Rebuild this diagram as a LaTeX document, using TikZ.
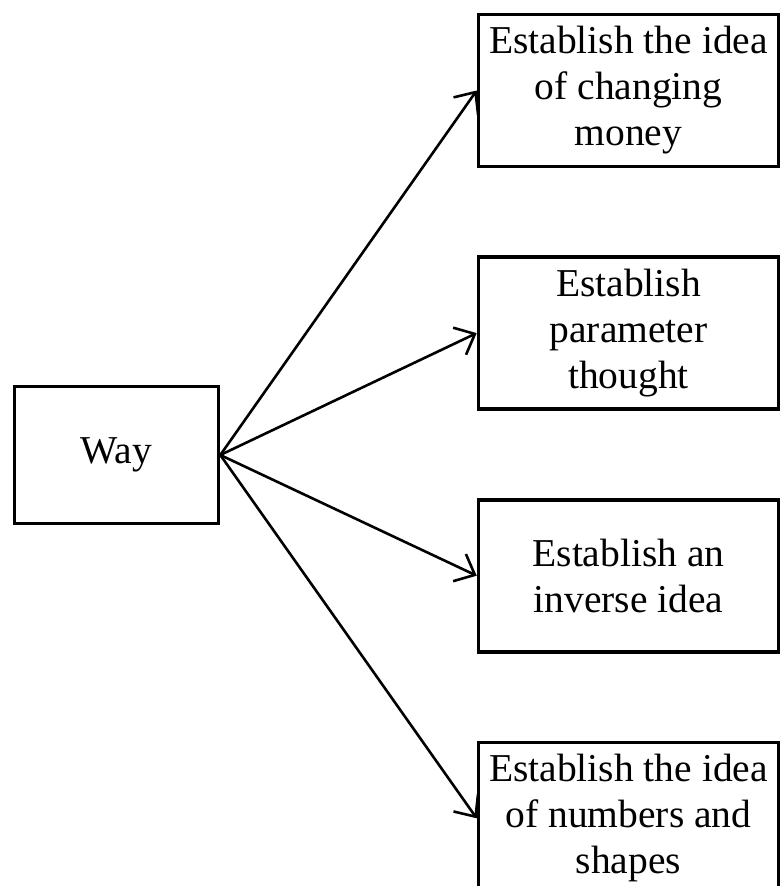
\documentclass[tikz,border=0pt]{standalone}
\usepackage{fontspec}
\setmainfont{Liberation Serif}
\usetikzlibrary{positioning,arrows.meta}
\tikzset{
  box/.style={ % image of one of the idea boxes
    draw, rectangle, line width=3.6pt, align=center,
    minimum width=300pt, minimum height=152pt, inner sep=0pt,
    text=black, font=\fontsize{39.5}{46}\selectfont
  },
  waybox/.style={ % image of the starting box
    draw, rectangle, line width=3.6pt,
    minimum width=204pt, minimum height=137pt, inner sep=0pt,
    text=black, font=\fontsize{39.5}{46}\selectfont
  }
}

\begin{document}
\begin{tikzpicture}[
      x=1pt, y=-1pt, line width=2.6pt,
      -{Straight Barb[length=17pt,width=30pt]}
    ]
      \useasboundingbox (0,0) rectangle (780,886);
      \clip (0,0) rectangle (780,886);

      \node[waybox] (way) at (116.5,455) {Way};
      \node[box] (money) at (628.5,90.5) {Establish the idea\\of changing\\money};
      \node[box] (param) [below=87pt of money] {Establish\\parameter\\thought};
      \node[box] (inverse) [below=87pt of param] {Establish an\\inverse idea};
      \node[box] (shapes) [below=87pt of inverse] {Establish the idea\\of numbers and\\shapes};

      \draw (way.east) -- (money.west);
      \draw (way.east) -- (param.west);
      \draw (way.east) -- (inverse.west);
      \draw (way.east) -- (shapes.west);
    \end{tikzpicture}
\end{document}
